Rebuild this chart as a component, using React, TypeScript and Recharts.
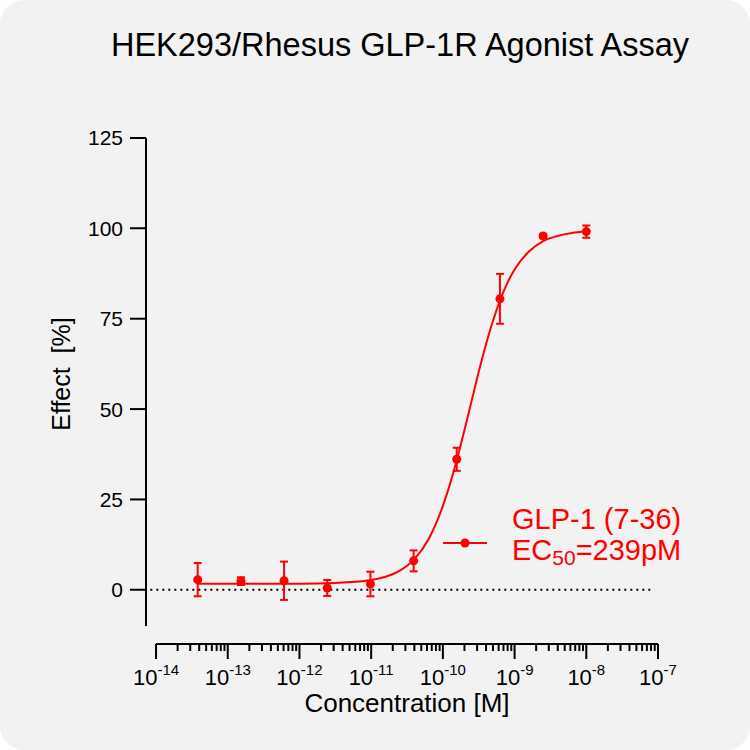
import React from 'react';
import {
  ComposedChart,
  Line,
  Scatter,
  ErrorBar,
  XAxis,
  YAxis,
  ReferenceLine,
  Label,
} from 'recharts';

// measured points, concentration in M
const concentrations = [3.81e-14, 1.53e-13, 6.1e-13, 2.44e-12, 9.77e-12, 3.91e-11, 1.56e-10, 6.25e-10, 2.5e-9, 1e-8];
const effect = [2.8, 2.4, 2.5, 0.5, 1.6, 8.0, 36.1, 80.5, 97.9, 99.1];
const effectErr = [4.6, 1.1, 5.3, 2.2, 3.4, 2.9, 3.2, 6.9, 0.5, 1.7];

// fitted curve (log10 M, %)
const curveLogConc = [-13.42, -12.5, -12, -11.5, -11, -10.8, -10.6, -10.4, -10.2, -10.0, -9.9, -9.8, -9.7, -9.6, -9.5, -9.4, -9.3, -9.2, -9.1, -9.0, -8.8, -8.6, -8.4, -8.2, -8.0];
const curveEffect = [1.7, 1.7, 1.7, 1.9, 2.7, 3.6, 5.3, 8.4, 14.0, 23.2, 29.3, 36.3, 44.1, 52.2, 60.3, 67.8, 74.5, 80.2, 84.9, 88.6, 93.6, 96.5, 97.9, 98.7, 99.1];

const yTicks = [0, 25, 50, 75, 100, 125];
const decades = [-14, -13, -12, -11, -10, -9, -8, -7];

const RED = '#ff0000';
const FONT = 'Arial, "Liberation Sans", sans-serif';

const points = concentrations.map((c, i) => ({ x: Math.log10(c), y: effect[i], err: effectErr[i] }));
const curve = curveLogConc.map((x, i) => ({ x, y: curveEffect[i] }));

// major + minor log ticks
const xTicks: number[] = [];
decades.forEach((d) => {
  if (d === -7) {
    xTicks.push(d);
    return;
  }
  for (let m = 1; m < 10; m++) xTicks.push(d + Math.log10(m));
});

function XTick(props: any) {
  const { x, y, payload } = props;
  const v = payload.value;
  const major = Math.abs(v - Math.round(v)) < 1e-6;
  return (
    <g>
      <line x1={x} x2={x} y1={y} y2={y + (major ? 15 : 7)} stroke="#000" strokeWidth={2} />
      {major && (
        <text x={x} y={y + 41} textAnchor="middle" fontFamily={FONT} fill="#000">
          <tspan fontSize={22}>10</tspan>
          <tspan fontSize={15} dy={-10}>{Math.round(v)}</tspan>
        </text>
      )}
    </g>
  );
}

function LegendBox() {
  return (
    <div style={{ position: 'absolute', left: 440, top: 504, width: 290, height: 70, fontFamily: FONT, color: RED }}>
      <svg width={50} height={14} style={{ position: 'absolute', left: 0, top: 32 }}>
        <line x1={3} x2={47} y1={7} y2={7} stroke={RED} strokeWidth={2} />
        <circle cx={25} cy={7} r={4.5} fill={RED} />
      </svg>
      <div style={{ position: 'absolute', left: 72, top: 0, fontSize: 29, lineHeight: '31px', whiteSpace: 'nowrap' }}>
        <div>GLP-1 (7-36)</div>
        <div>
          EC<sub style={{ fontSize: 21, verticalAlign: '-5px', lineHeight: 0 }}>50</sub>=239pM
        </div>
      </div>
    </div>
  );
}

export default function App() {
  return (
    <div style={{ position: 'relative', width: 750, height: 750, background: '#f2f2f2', borderRadius: 24, overflow: 'hidden' }}>
      <style>{'body{margin:0;background:#fff}'}</style>
      <div
        style={{
          position: 'absolute',
          top: 27,
          left: 0,
          width: 800,
          textAlign: 'center',
          fontFamily: FONT,
          fontSize: 32.5,
          color: '#000',
          whiteSpace: 'nowrap',
        }}
      >
        HEK293/Rhesus GLP-1R Agonist Assay
      </div>
      <ComposedChart width={750} height={750} margin={{ top: 138, right: 92, bottom: 0, left: 0 }}>
        <XAxis
          dataKey="x"
          type="number"
          domain={[-14.14, -7]}
          allowDataOverflow
          ticks={xTicks}
          interval={0}
          axisLine={false}
          tickLine={false}
          tickSize={0}
          tickMargin={0}
          height={106}
          tick={<XTick />}
        >
          <Label
            content={() => (
              <text x={407} y={712} textAnchor="middle" fontFamily={FONT} fontSize={26} fill="#000">
                Concentration [M]
              </text>
            )}
          />
        </XAxis>
        <YAxis
          dataKey="y"
          type="number"
          domain={[-15, 125]}
          allowDataOverflow
          ticks={yTicks}
          interval={0}
          width={146}
          axisLine={false}
          tickSize={16}
          tickMargin={7}
          tickLine={{ stroke: '#000', strokeWidth: 2 }}
          tick={{ fill: '#000', fontSize: 21, fontFamily: FONT }}
        >
          <Label
            content={() => (
              <text
                x={61}
                y={374}
                transform="rotate(-90 61 374)"
                textAnchor="middle"
                dominantBaseline="central"
                fontFamily={FONT}
                fontSize={25}
                fill="#000"
                style={{ whiteSpace: 'pre' }}
              >
                {'Effect  [%]'}
              </text>
            )}
          />
        </YAxis>
        <ReferenceLine
          segment={[{ x: -14.14, y: -10 }, { x: -14.14, y: 125 }]}
          stroke="#000"
          strokeWidth={2}
        />
        <ReferenceLine
          segment={[{ x: -14, y: -15 }, { x: -7, y: -15 }]}
          stroke="#000"
          strokeWidth={2}
        />
        <ReferenceLine
          segment={[{ x: -14.08, y: 0 }, { x: -7.05, y: 0 }]}
          stroke="#000"
          strokeWidth={2}
          strokeDasharray="2 4"
        />
        <Line
          data={curve}
          dataKey="y"
          type="monotone"
          stroke={RED}
          strokeWidth={2}
          dot={false}
          activeDot={false}
          isAnimationActive={false}
          legendType="none"
        />
        <Scatter data={points} dataKey="y" fill={RED} isAnimationActive={false}>
          <ErrorBar dataKey="err" direction="y" width={4} stroke={RED} strokeWidth={2} isAnimationActive={false} />
        </Scatter>
      </ComposedChart>
      <LegendBox />
    </div>
  );
}
